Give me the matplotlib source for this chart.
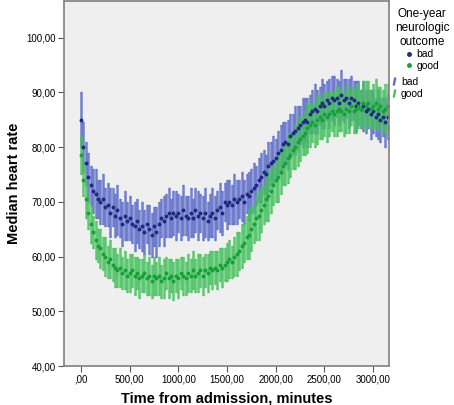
import numpy as np
import matplotlib.pyplot as plt
from matplotlib.lines import Line2D
from matplotlib.ticker import FuncFormatter

plt.rcParams['font.family'] = ['Liberation Sans', 'DejaVu Sans']

# medians every 25 minutes, 0 .. 3150
bad_median = [85, 80, 77, 74.5, 73, 72, 71.5, 70.5, 70, 70.5, 69, 69.5, 68, 69, 67.5, 68.5,
              67, 66, 67.5, 66.5, 67, 66, 65.5, 66.5, 65, 65.5, 64.5, 66, 65, 64, 65.5, 64.5,
              66, 67, 66.5, 67.5, 68, 67, 68, 67.5, 68, 67, 68.5, 67.5, 67, 68, 67, 68.5,
              67.5, 68, 67, 68, 66.5, 67.5, 68, 67, 68.5, 69, 68, 70, 69.5, 70, 69.5, 70.5,
              70, 70.5, 71, 70, 71.5, 71, 72, 72.5, 73, 74, 74.5, 75.5, 75, 76.5, 77, 77.5,
              78, 79, 79.5, 80.5, 81, 80.5, 82, 82.5, 83, 83.5, 84, 84.5, 85, 84.5, 86, 86.5,
              87, 86.5, 87.5, 88, 87.5, 88.5, 88, 89, 88.5, 89, 88, 89.5, 88.5, 89, 88, 89,
              88.5, 87.5, 88, 87, 87.5, 86.5, 87, 86, 86.5, 85.5, 86, 85, 85.5, 84.5, 85.5]
bad_err = [5, 4.5, 4, 4.5, 3.5, 4, 4.5, 3.5, 4, 4.5, 3.5, 4, 4.5, 3.5, 4, 4.5,
           3.5, 4, 4.5, 3.5, 4, 3.5, 4.5, 4, 3.5, 4.5, 4, 3.5, 4.5, 4, 3.5, 4.5,
           4, 3.5, 4.5, 4, 4.5, 3.5, 4, 4.5, 3.5, 4, 4.5, 3.5, 4, 4.5, 3.5, 4,
           4.5, 3.5, 4, 4.5, 3.5, 4, 4.5, 4, 3.5, 4.5, 4, 3.5, 4.5, 4, 3.5, 4.5,
           4, 3.5, 4.5, 4, 3.5, 4.5, 4, 4.5, 3.5, 4, 4.5, 4, 3.5, 4.5, 4, 4.5,
           3.5, 4, 4.5, 4, 3.5, 4.5, 4, 3.5, 4.5, 4, 3.5, 4.5, 4, 4.5, 3.5, 4,
           4.5, 4, 3.5, 4.5, 4, 3.5, 4.5, 4, 4.5, 3.5, 4, 4.5, 4, 3.5, 4.5, 4,
           3.5, 4.5, 4, 3.5, 4.5, 4, 3.5, 4.5, 4, 3.5, 4.5, 4, 3.5, 4.5, 4]
good_median = [78.5, 74, 70.5, 68, 66, 64.5, 63, 62, 61.5, 60.5, 60, 59, 59.5, 58.5, 58, 57.5,
               58, 57, 57.5, 56.5, 57, 57.5, 56.5, 57, 56, 56.5, 57, 56, 56.5, 55.5, 56.5, 56,
               56.5, 55.5, 56, 57, 56, 56.5, 55.5, 56.5, 56, 57, 56.5, 56, 57, 56.5, 57.5, 56.5,
               57, 57.5, 56.5, 57.5, 57, 58, 57.5, 58, 57.5, 58.5, 58, 58.5, 59, 59.5, 59, 60,
               60.5, 61, 62, 62.5, 63.5, 64, 65, 66, 67, 67.5, 68.5, 69.5, 70.5, 71, 72, 73,
               74, 74.5, 75.5, 76.5, 77, 78, 78.5, 79.5, 80, 81, 81.5, 82, 82.5, 83.5, 84, 84.5,
               84, 85, 85.5, 85, 86, 85.5, 86, 86.5, 86, 86.5, 87, 86.5, 86, 87, 86.5, 87.5,
               86.5, 87, 87.5, 87, 88, 87.5, 88, 87, 87.5, 88, 87, 87.5, 86.5, 87, 87.5]
good_err = [3.5, 3, 3.5, 3, 3.5, 3, 3.5, 3, 3.5, 3, 3.5, 3, 3.5, 3, 3.5, 3,
            3.5, 3, 3.5, 3, 3.5, 3, 3.5, 3, 3.5, 3, 3.5, 3, 3.5, 3, 3.5, 3,
            3.5, 3, 3.5, 3, 3.5, 3, 3.5, 3, 3.5, 3, 3.5, 3, 3.5, 3, 3.5, 3,
            3.5, 3, 3.5, 3, 3.5, 3, 3.5, 3, 3.5, 3, 3.5, 3, 3.5, 3.5, 3, 3.5,
            4, 3.5, 4, 3.5, 4, 4.5, 4, 3.5, 4, 4.5, 4, 3.5, 4, 4.5, 4, 3.5,
            4, 4.5, 4, 3.5, 4, 4.5, 4, 3.5, 4, 4.5, 4, 3.5, 4, 4.5, 4, 3.5,
            4, 4.5, 4, 3.5, 4, 4.5, 4, 3.5, 4, 4.5, 4, 3.5, 4, 4.5, 4, 3.5,
            4, 4.5, 4, 3.5, 4, 4.5, 4, 3.5, 4, 4.5, 4, 3.5, 4, 4.5, 4]
x_ticks = [0, 500, 1000, 1500, 2000, 2500, 3000]
y_ticks = [40, 50, 60, 70, 80, 90, 100]

t_bad = np.arange(len(bad_median)) * 25
t_good = np.arange(len(good_median)) * 25

fig = plt.figure(figsize=(4.54, 4.05), dpi=100)
ax = fig.add_axes([0.141, 0.096, 0.716, 0.902])
ax.set_facecolor('#efefef')

ax.errorbar(t_bad, bad_median, yerr=bad_err[:len(bad_median)], fmt='none',
            ecolor='#5b6bc9', elinewidth=1.8, capsize=0.8, alpha=0.85)
ax.errorbar(t_good, good_median, yerr=good_err[:len(good_median)], fmt='none',
            ecolor='#44c05c', elinewidth=1.8, capsize=0.8, alpha=0.85)
ax.plot(t_bad, bad_median, 'o', ms=1.8, color='#1f2a80', ls='none')
ax.plot(t_good, good_median, 'o', ms=1.8, color='#17a03a', ls='none')

ax.set_xlim(-174, 3164)
ax.set_ylim(40, 106.7)
ax.set_xticks(x_ticks)
ax.set_yticks(y_ticks)


def fmt(v, p):
    s = ('%.2f' % v).replace('.', ',')
    return s.lstrip('0') if v == 0 else s


ax.xaxis.set_major_formatter(FuncFormatter(fmt))
ax.yaxis.set_major_formatter(FuncFormatter(fmt))
ax.tick_params(labelsize=7, length=4, color='#555555', pad=2)
for s in ax.spines.values():
    s.set_color('#808080')
    s.set_linewidth(1.2)

ax.set_xlabel('Time from admission, minutes', fontsize=10.5, fontweight='bold', labelpad=5)
ax.set_ylabel('Median heart rate', fontsize=10.5, fontweight='bold', labelpad=4)

h1 = [Line2D([], [], marker='o', ms=2.5, ls='none', color='#1f2a80'),
      Line2D([], [], marker='o', ms=2.5, ls='none', color='#17a03a')]
leg = fig.legend(h1, ['bad', 'good'], title='One-year\nneurologic\noutcome',
                 loc='upper center', bbox_to_anchor=(0.93, 0.985), frameon=False,
                 fontsize=7.5, title_fontsize=8.5, handlelength=0.8, handletextpad=0.3,
                 labelspacing=0.15, borderaxespad=0, borderpad=0.2, alignment='center')
leg.get_title().set_multialignment('center')
h2 = [Line2D([], [], marker='$I$', ms=5, ls='none', color='#5b6bc9'),
      Line2D([], [], marker='$I$', ms=5, ls='none', color='#44c05c')]
fig.legend(h2, ['bad', 'good'], loc='upper left', bbox_to_anchor=(0.858, 0.815),
           frameon=False, fontsize=7.5, handlelength=0.5, handletextpad=0.4,
           labelspacing=0.15, borderaxespad=0, borderpad=0.2)

fig.savefig('out.png', dpi=100)
